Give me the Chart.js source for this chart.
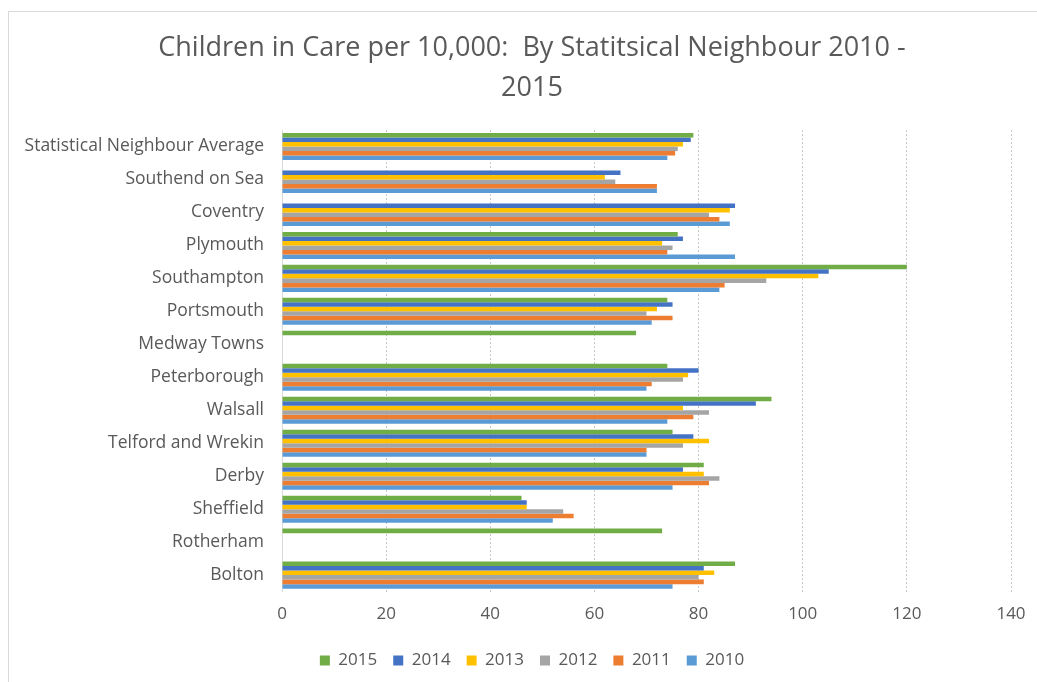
<!DOCTYPE html>
<html>
<head>
<meta charset="utf-8">
<script src="https://cdn.jsdelivr.net/npm/chart.js@4.4.1/dist/chart.umd.min.js"></script>
<style>
  html, body { margin: 0; padding: 0; background: #fff; }
  #wrap { position: relative; width: 1037px; height: 682px; overflow: hidden; }
  #frame { position: absolute; left: 8px; top: 11px; width: 1100px; height: 700px; border: 1px solid #d9d9d9; box-sizing: border-box; }
  canvas { position: absolute; left: 0; top: 0; }
</style>
</head>
<body>
<div id="wrap">
  <div id="frame"></div>
  <canvas id="c" width="1037" height="682"></canvas>
</div>
<script>
const categories = [
  "Statistical Neighbour Average", "Southend on Sea", "Coventry", "Plymouth",
  "Southampton", "Portsmouth", "Medway Towns", "Peterborough", "Walsall",
  "Telford and Wrekin", "Derby", "Sheffield", "Rotherham", "Bolton"
];
const v2015 = [79, null, null, 76, 120, 74, 68, 74, 94, 75, 81, 46, 73, 87];
const v2014 = [78.5, 65, 87, 77, 105, 75, null, 80, 91, 79, 77, 47, null, 81];
const v2013 = [77, 62, 86, 73, 103, 72, null, 78, 77, 82, 81, 47, null, 83];
const v2012 = [76, 64, 82, 75, 93, 70, null, 77, 82, 77, 84, 54, null, 80];
const v2011 = [75.5, 72, 84, 74, 85, 75, null, 71, 79, 70, 82, 56, null, 81];
const v2010 = [74, 72, 86, 87, 84, 71, null, 70, 74, 70, 75, 52, null, 75];
const seriesLabels = ["2015", "2014", "2013", "2012", "2011", "2010"];
const seriesColors = ["#70AD47", "#4472C4", "#FFC000", "#A5A5A5", "#ED7D31", "#5B9BD5"];
const xTicks = [0, 20, 40, 60, 80, 100, 120, 140];

const seriesValues = [v2015, v2014, v2013, v2012, v2011, v2010];
const FONT = "'Open Sans', sans-serif";
const TXT = "#595959";

new Chart(document.getElementById('c'), {
  type: 'bar',
  data: {
    labels: categories,
    datasets: seriesLabels.map((l, i) => ({
      label: l,
      data: seriesValues[i],
      backgroundColor: seriesColors[i],
      borderWidth: 0,
      categoryPercentage: 0.82,
      barPercentage: 1.0
    }))
  },
  options: {
    indexAxis: 'y',
    responsive: false,
    animation: false,
    layout: { padding: { left: 8, right: -19, top: 10, bottom: 3 } },
    plugins: {
      title: {
        display: true,
        text: ["Children in Care per 10,000:  By Statitsical Neighbour 2010 -", "2015"],
        color: TXT,
        font: { family: FONT, size: 27, weight: 'normal', lineHeight: 1.5 },
        padding: { top: 18, bottom: 21 }
      },
      legend: {
        position: 'bottom',
        labels: {
          color: TXT,
          font: { family: FONT, size: 17 },
          boxWidth: 10, boxHeight: 10,
          padding: 16
        }
      },
      tooltip: { enabled: false }
    },
    scales: {
      x: {
        min: 0, max: 140,
        afterBuildTicks: (s) => { s.ticks = xTicks.map(v => ({ value: v })); },
        afterFit: (s) => { s.paddingRight = 26; },
        ticks: { color: TXT, font: { family: FONT, size: 17 }, padding: 12 },
        grid: { color: '#c8c8c8', drawTicks: false },
        border: { display: false, dash: [2, 2] }
      },
      y: {
        afterFit: (s) => { s.width = 274; },
        ticks: { color: TXT, font: { family: FONT, size: 17.5 }, padding: 18, autoSkip: false },
        grid: { display: false, drawTicks: false },
        border: { display: true, color: '#d9d9d9' }
      }
    }
  }
});
</script>
</body>
</html>
